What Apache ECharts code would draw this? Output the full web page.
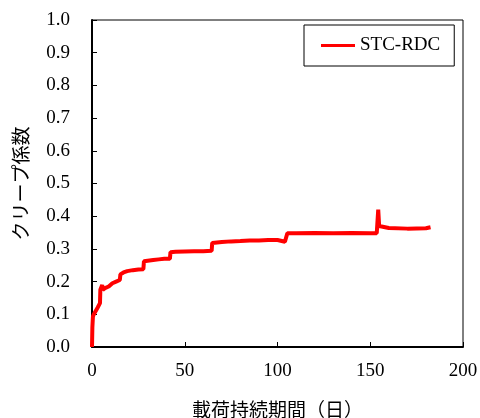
<!DOCTYPE html>
<html>
<head>
<meta charset="utf-8">
<script src="https://cdn.jsdelivr.net/npm/echarts@6/dist/echarts.min.js"></script>
<style>
  html, body { margin: 0; padding: 0; background: #fff; }
  #main { width: 480px; height: 418px; }
</style>
</head>
<body>
<div id="main"></div>
<script>
// 載荷持続期間（日）
var days = [0, 0.2, 0.5, 1, 2, 3, 4.3, 4.5, 5.5, 5.8, 7, 9, 11, 13, 15, 15.3, 17, 19, 22, 25,
  27.7, 28, 30, 33, 36, 39, 42, 42.3, 45, 50, 55, 60, 64.5, 64.8, 70, 75, 80, 85, 90, 95,
  100, 104, 105, 105.3, 110, 120, 130, 140, 150, 153.5, 154, 154.3, 154.8, 155.3, 160, 170, 180, 182.5];
// クリープ係数
var creep = [0, 0.06, 0.093, 0.1, 0.11, 0.12, 0.134, 0.175, 0.19, 0.175, 0.18, 0.185, 0.195, 0.2, 0.205, 0.222, 0.228, 0.232, 0.235, 0.237,
  0.238, 0.262, 0.264, 0.266, 0.268, 0.27, 0.27, 0.29, 0.291, 0.292, 0.293, 0.293, 0.294, 0.318, 0.321, 0.323, 0.324, 0.326, 0.326, 0.327,
  0.327, 0.322, 0.322, 0.348, 0.348, 0.349, 0.348, 0.349, 0.348, 0.348, 0.35, 0.42, 0.37, 0.365, 0.364, 0.362, 0.363, 0.366];
var seriesName = 'STC-RDC';

var chart = echarts.init(document.getElementById('main'), null, { renderer: 'canvas' });

var points = [];
for (var i = 0; i < days.length; ++i) {
  points.push([days[i], creep[i]]);
}

var serif = 'Liberation Serif';
var gothic = 'Noto Sans CJK JP';

var option = {
  animation: false,
  grid: {
    left: 92, right: 17, top: 20, bottom: 71,
    outerBoundsMode: 'none',
    show: true, borderColor: '#000', borderWidth: 1
  },
  legend: {
    left: 304, top: 25,
    padding: [11, 14, 11, 17],
    borderColor: '#000', borderWidth: 1,
    icon: 'rect',
    itemWidth: 34, itemHeight: 3,
    textStyle: { fontFamily: serif, fontSize: 19, color: '#000' },
    data: [seriesName]
  },
  xAxis: {
    type: 'value',
    min: 0, max: 200, interval: 50,
    name: '載荷持続期間（日）',
    nameLocation: 'middle',
    nameGap: 53,
    nameTextStyle: { fontFamily: gothic, fontSize: 19, color: '#000' },
    axisLine: { lineStyle: { color: '#000', width: 2 } },
    axisTick: { inside: true, length: 5, lineStyle: { color: '#000' } },
    axisLabel: { fontFamily: serif, fontSize: 19, color: '#000', margin: 15 },
    splitLine: { show: false }
  },
  yAxis: {
    type: 'value',
    min: 0, max: 1, interval: 0.1,
    name: 'クリープ係数',
    nameLocation: 'middle',
    nameRotate: 90,
    nameGap: 62,
    nameTextStyle: { fontFamily: gothic, fontSize: 19, color: '#000' },
    axisLine: { show: true, lineStyle: { color: '#000', width: 2 } },
    axisTick: { show: true, inside: true, length: 5, lineStyle: { color: '#000' } },
    axisLabel: {
      fontFamily: serif, fontSize: 19, color: '#000', margin: 22,
      formatter: function (v) { return v.toFixed(1); }
    },
    splitLine: { show: false }
  },
  series: [{
    name: seriesName,
    type: 'line',
    symbol: 'none',
    data: points,
    lineStyle: { color: '#ff0000', width: 4 },
    itemStyle: { color: '#ff0000' }
  }]
};

chart.setOption(option);
</script>
</body>
</html>
